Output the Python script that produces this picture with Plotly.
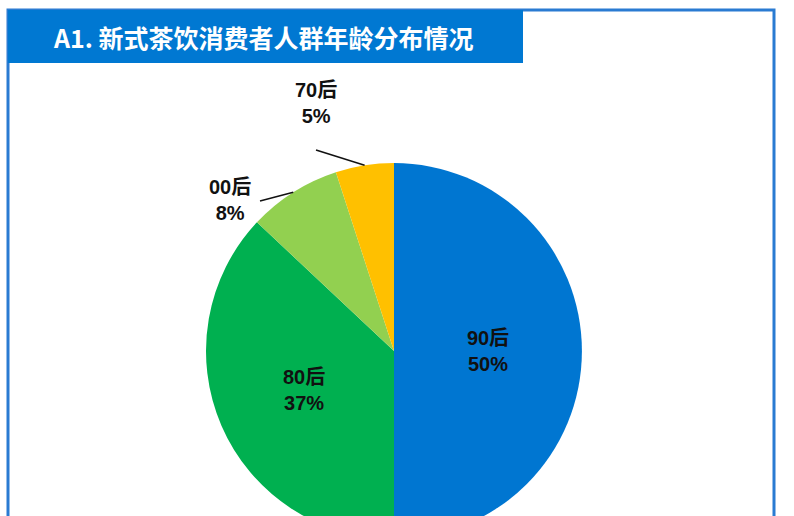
import math
import plotly.graph_objects as go

# ---- data ----
categories = ["90后", "80后", "00后", "70后"]
shares = [50, 37, 8, 5]
colors = ["#0076D1", "#00B050", "#92D050", "#FFC000"]
title_text = "A1. 新式茶饮消费者人群年龄分布情况"

W, H = 794, 560  # page is photographed at 516 px high; the pie runs off the bottom

def px(x):
    return x / W

def py(y):
    return 1 - y / H

# pie geometry (pixels)
cx, cy, r = 394, 351, 188

texttemplate = ["%{label}<br>%{percent}", "%{label}<br>%{percent}", "", ""]
label_font = dict(family="Liberation Sans, Noto Sans CJK SC", size=20, color="#111111")

fig = go.Figure()
fig.add_trace(go.Pie(
    labels=categories,
    values=shares,
    sort=False,
    direction="clockwise",
    rotation=0,
    marker=dict(colors=colors, line=dict(width=0)),
    texttemplate=texttemplate,
    textposition="inside",
    insidetextorientation="horizontal",
    textfont=dict(**label_font, weight="bold"),
    domain=dict(x=[px(cx - r), px(cx + r)], y=[py(cy + r), py(cy - r)]),
    showlegend=False,
    hoverinfo="label+percent",
))

shapes = []
annotations = []

# frame & title banner
shapes.append(dict(type="rect", xref="paper", yref="paper",
                   x0=px(8), x1=px(774), y0=py(10), y1=py(H + 20),
                   line=dict(color="#2A7BD2", width=3), fillcolor="rgba(0,0,0,0)", layer="below"))
shapes.append(dict(type="rect", xref="paper", yref="paper",
                   x0=px(8), x1=px(523), y0=py(10), y1=py(63),
                   line=dict(width=0), fillcolor="#0078D2", layer="above"))
annotations.append(dict(text="<b>" + title_text + "</b>", xref="paper", yref="paper",
                        x=px(51), y=py(37), xanchor="left", yanchor="middle", showarrow=False,
                        font=dict(family="Noto Sans CJK SC", size=25, color="white")))

# outside labels with leader lines for the small slices
total = sum(shares)
cum = 0
mids = []
for v in shares:
    mids.append((cum + v / 2) / total * 2 * math.pi)
    cum += v

outside = {
    "00后": dict(label=(230, 200), line_start=(260, 201)),
    "70后": dict(label=(316, 103), line_start=(316, 150)),
}
for i, cat in enumerate(categories):
    if cat not in outside:
        continue
    a = mids[i]
    ex = cx + r * math.sin(a)
    ey = cy - r * math.cos(a)
    sx, sy = outside[cat]["line_start"]
    shapes.append(dict(type="line", xref="paper", yref="paper",
                       x0=px(sx), y0=py(sy), x1=px(ex), y1=py(ey),
                       line=dict(color="#111111", width=1.5)))
    lx, ly = outside[cat]["label"]
    annotations.append(dict(text=f"<b>{cat}<br>{shares[i]}%</b>", xref="paper", yref="paper",
                            x=px(lx), y=py(ly), xanchor="center", yanchor="middle", showarrow=False,
                            font=label_font))

fig.update_layout(
    width=W, height=H,
    margin=dict(l=0, r=0, t=0, b=0),
    paper_bgcolor="white",
    plot_bgcolor="white",
    shapes=shapes,
    annotations=annotations,
)

fig.write_html("out.html", post_script="document.documentElement.style.overflow='hidden';document.body.style.overflow='hidden';document.body.style.margin='0';")
